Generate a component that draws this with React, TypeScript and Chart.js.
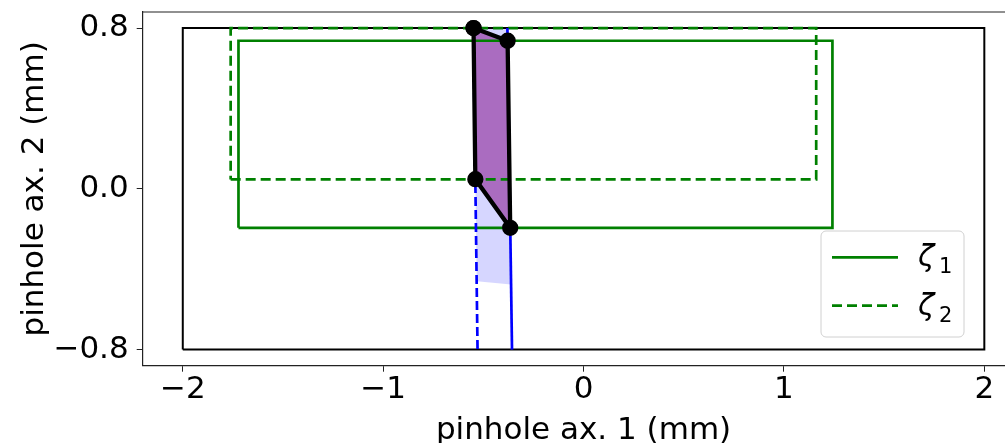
import React, { useEffect, useRef } from "react";
import { Chart, registerables } from "chart.js";
Chart.register(...registerables);

// ---- data ----
const xTickValues = [-2, -1, 0, 1, 2];
const yTickValues = [-0.8, 0, 0.8];
const xLimits = [-2.2, 2.2];
const yLimits = [-0.88, 0.88];

const frameX = [-2, 2, 2, -2, -2];
const frameY = [-0.8, -0.8, 0.8, 0.8, -0.8];

const zeta1X = [-1.722, 1.242, 1.242, -1.722, -1.722];
const zeta1Y = [-0.194, -0.194, 0.737, 0.737, -0.194];

const zeta2X = [-1.761, 1.161, 1.161, -1.761, -1.761];
const zeta2Y = [0.047, 0.047, 0.8, 0.8, 0.047];

const regionX = [-0.549, -0.379, -0.366, -0.54, -0.549];
const regionY = [0.8, 0.737, -0.194, 0.048, 0.8];

const shadowX = [-0.55, -0.38, -0.362, -0.533, -0.55];
const shadowY = [0.8, 0.8, -0.476, -0.46, 0.8];

const blueSolidX = [-0.38, -0.357];
const blueSolidY = [0.8, -0.8];
const blueDashX = [-0.55, -0.529];
const blueDashY = [0.8, -0.8];

const legendLabels = ["ζ₁", "ζ₂"];
const xTitle = "pinhole ax. 1 (mm)";
const yTitle = "pinhole ax. 2 (mm)";

// ---- layout constants ----
const W = 1040;
const H = 470;
const FONT = "DejaVu Sans";
const FS = 31;

const pts = (xs: number[], ys: number[]) => xs.map((x, i) => ({ x, y: ys[i] }));
const fmt = (v: number, digits: number) => {
  const s = Math.abs(v) < 1e-9 ? (0).toFixed(digits) : v.toFixed(digits);
  return s.replace("-", "\u2212");
};

const subMap: Record<string, string> = { "₀": "0", "₁": "1", "₂": "2", "₃": "3" };

const framePlugin = {
  id: "topSpine",
  afterDatasetsDraw(chart: any) {
    const { ctx, chartArea } = chart;
    ctx.save();
    ctx.strokeStyle = "#222";
    ctx.lineWidth = 1.2;
    ctx.beginPath();
    ctx.moveTo(chartArea.left, chartArea.top);
    ctx.lineTo(chartArea.right, chartArea.top);
    ctx.lineTo(chartArea.right, chartArea.bottom);
    ctx.stroke();
    ctx.restore();
  },
};

const legendPlugin = {
  id: "boxLegend",
  afterDraw(chart: any) {
    const { ctx } = chart;
    const items = chart.data.datasets.filter((d: any) => d.label);
    const bx = 821, by = 231, bw = 143, bh = 106;
    ctx.save();
    ctx.beginPath();
    if (ctx.roundRect) ctx.roundRect(bx, by, bw, bh, 5);
    else ctx.rect(bx, by, bw, bh);
    ctx.fillStyle = "rgba(255,255,255,0.8)";
    ctx.fill();
    ctx.strokeStyle = "#d0d0d0";
    ctx.lineWidth = 1;
    ctx.stroke();
    items.forEach((d: any, i: number) => {
      const y = 257.3 + i * 48.4;
      ctx.beginPath();
      ctx.strokeStyle = d.borderColor;
      ctx.lineWidth = d.borderWidth;
      ctx.setLineDash(d.borderDash || []);
      ctx.moveTo(832, y);
      ctx.lineTo(898, y);
      ctx.stroke();
      ctx.setLineDash([]);
      const main = d.label.slice(0, 1);
      const sub = d.label.slice(1).split("").map((c: string) => subMap[c] ?? c).join("");
      ctx.fillStyle = "#000";
      ctx.textBaseline = "alphabetic";
      ctx.textAlign = "left";
      ctx.font = `italic ${FS - 1}px ${FONT}`;
      ctx.fillText(main, 918, y + 9);
      ctx.font = `${Math.round(FS * 0.68)}px ${FONT}`;
      ctx.fillText(sub, 939, y + 16);
    });
    ctx.restore();
  },
};

export default function App() {
  const ref = useRef<HTMLCanvasElement | null>(null);
  useEffect(() => {
    if (!ref.current) return;
    const tickFont = { family: FONT, size: FS };
    const chart = new Chart(ref.current, {
      type: "scatter",
      data: {
        datasets: [
          {
            label: "",
            data: pts(regionX, regionY),
            showLine: true,
            borderColor: "#000",
            borderWidth: 4.3,
            pointRadius: 6,
            pointBackgroundColor: "#000",
            pointBorderColor: "#000",
            fill: false,
          },
          {
            label: "",
            data: pts(blueSolidX, blueSolidY),
            showLine: true,
            borderColor: "#0000ff",
            borderWidth: 2.7,
            pointRadius: 0,
          },
          {
            label: "",
            data: pts(blueDashX, blueDashY),
            showLine: true,
            borderColor: "#0000ff",
            borderWidth: 2.7,
            borderDash: [9, 4],
            pointRadius: 0,
          },
          {
            label: legendLabels[0],
            data: pts(zeta1X, zeta1Y),
            showLine: true,
            borderColor: "#008000",
            borderWidth: 2.7,
            pointRadius: 0,
          },
          {
            label: legendLabels[1],
            data: pts(zeta2X, zeta2Y),
            showLine: true,
            borderColor: "#008000",
            borderWidth: 2.7,
            borderDash: [10, 5],
            pointRadius: 0,
          },
          {
            label: "",
            data: pts(frameX, frameY),
            showLine: true,
            borderColor: "#000",
            borderWidth: 2,
            pointRadius: 0,
          },
          {
            label: "",
            data: pts(regionX, regionY),
            showLine: true,
            borderWidth: 0,
            borderColor: "rgba(0,0,0,0)",
            backgroundColor: "rgb(170,108,192)",
            pointRadius: 0,
            fill: "shape",
          },
          {
            label: "",
            data: pts(shadowX, shadowY),
            showLine: true,
            borderWidth: 0,
            borderColor: "rgba(0,0,0,0)",
            backgroundColor: "rgba(0,0,255,0.16)",
            pointRadius: 0,
            fill: "shape",
          },
        ] as any,
      },
      options: {
        animation: false,
        responsive: false,
        devicePixelRatio: 1,
        layout: { padding: { left: 0, top: 12, right: W - 1024.4, bottom: 0 } },
        plugins: { legend: { display: false }, tooltip: { enabled: false } },
        scales: {
          x: {
            type: "linear",
            min: xLimits[0],
            max: xLimits[1],
            afterBuildTicks: (s: any) => {
              s.ticks = xTickValues.map((v) => ({ value: v }));
            },
            afterFit: (s: any) => {
              s.height = H - 365.7;
              s.paddingLeft = 0;
              s.paddingRight = 0;
            },
            ticks: {
              callback: (v: any) => fmt(Number(v), 0),
              font: tickFont,
              color: "#000",
              padding: 0,
              maxRotation: 0,
              autoSkip: false,
            },
            grid: { drawOnChartArea: false, drawTicks: true, tickLength: 6, color: "#222" },
            border: { display: true, color: "#222", width: 1.2 },
            title: {
              display: true,
              text: xTitle,
              font: { family: FONT, size: FS },
              color: "#000",
              padding: { top: 0, bottom: 20.7 },
            },
          },
          y: {
            type: "linear",
            min: yLimits[0],
            max: yLimits[1],
            afterBuildTicks: (s: any) => {
              s.ticks = yTickValues.map((v) => ({ value: v }));
            },
            afterFit: (s: any) => {
              s.width = 142.7;
              s.paddingTop = 0;
              s.paddingBottom = 0;
            },
            ticks: {
              callback: (v: any) => fmt(Number(v), 1),
              font: tickFont,
              color: "#000",
              padding: 8,
              autoSkip: false,
            },
            grid: { drawOnChartArea: false, drawTicks: true, tickLength: 6, color: "#222" },
            border: { display: true, color: "#222", width: 1.2 },
            title: {
              display: true,
              text: yTitle,
              font: { family: FONT, size: FS },
              color: "#000",
              padding: { top: 15.9, bottom: 0 },
            },
          },
        },
      } as any,
      plugins: [framePlugin, legendPlugin],
    });
    return () => chart.destroy();
  }, []);
  return (
    <div
      style={{
        position: "fixed",
        left: 0,
        top: 0,
        width: 1005,
        height: 443,
        overflow: "hidden",
        background: "#fff",
      }}
    >
      <canvas ref={ref} width={W} height={H} style={{ display: "block", width: W, height: H }} />
    </div>
  );
}
